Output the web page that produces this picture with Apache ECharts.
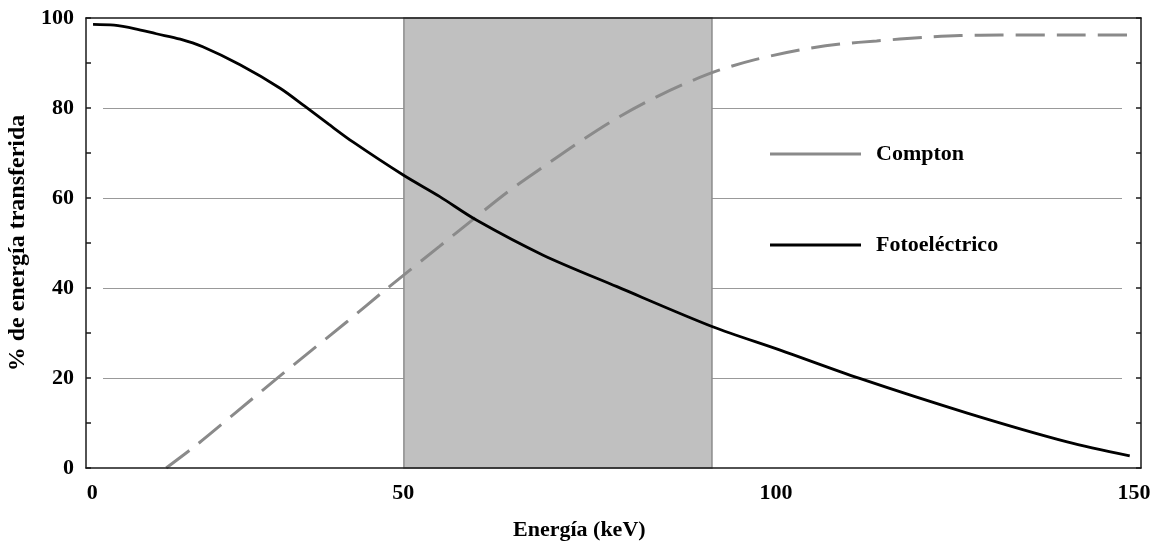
<!DOCTYPE html>
<html>
<head>
<meta charset="utf-8">
<script src="https://cdn.jsdelivr.net/npm/echarts@6/dist/echarts.min.js"></script>
<style>
  html, body { margin: 0; padding: 0; background: #fff; }
  #chart { width: 1157px; height: 542px; }
</style>
</head>
<body>
<div id="chart"></div>
<script>
// ---- data ----
const xTitle = 'Energía (keV)';
const yTitle = '% de energía transferida';
const xTickLabels = ['0', '50', '100', '150'];
const xTickValues = [0.9, 45.1, 98.1, 149];
const yTickValues = [0, 20, 40, 60, 80, 100];
const shadedBand = [45.2, 89.0];

const comptonName = 'Compton';
const comptonX = [11.4, 15.7, 21.2, 26.6, 31.8, 37.1, 42.8, 50.3, 55.0, 60.0, 65.0, 70.0, 75.0, 80.0, 85.0, 90.0, 95.0, 101.5, 107.2, 112.4, 119.0, 124.3, 130.0, 140.0, 148.4];
const comptonY = [0, 5.1, 12.2, 19.2, 25.8, 32.5, 39.9, 49.3, 55.2, 61.4, 66.9, 72.3, 77.3, 81.6, 85.3, 88.4, 90.7, 92.9, 94.2, 94.9, 95.7, 96.1, 96.2, 96.2, 96.2];

const photoName = 'Fotoeléctrico';
const photoX = [1.0, 4.0, 7.0, 10.0, 13.4, 16.6, 21.9, 27.6, 31.1, 34.5, 38.0, 45.1, 50.3, 55.5, 65.0, 75.5, 89.1, 98.7, 110.0, 125.3, 139.5, 148.4];
const photoY = [98.6, 98.4, 97.6, 96.5, 95.3, 93.6, 89.6, 84.4, 80.4, 76.4, 72.4, 65.1, 60.3, 55.1, 47.3, 40.3, 31.4, 26.2, 19.9, 12.2, 5.8, 2.7];

// ---- chart ----
const FONT = "'Liberation Serif', 'Times New Roman', 'DejaVu Serif', serif";
const pair = (xs, ys) => xs.map((x, i) => [x, ys[i]]);
const chart = echarts.init(document.getElementById('chart'), null, { renderer: 'canvas' });

chart.setOption({
  animation: false,
  backgroundColor: '#ffffff',
  textStyle: { fontFamily: FONT },
  grid: [
    { left: 86, right: 16, top: 18, bottom: 74, show: false, containLabel: false, outerBoundsMode: 'none' },
    { left: 103, right: 35, top: 18, bottom: 74, show: false, containLabel: false, outerBoundsMode: 'none' }
  ],
  xAxis: [
    {
      gridIndex: 0, type: 'value', min: 0, max: 150, z: 5,
      axisLine: { show: true, onZero: false, lineStyle: { color: '#1a1a1a', width: 1.5 } },
      axisTick: { show: false },
      splitLine: { show: false },
      axisLabel: {
        customValues: xTickValues,
        margin: 14,
        fontFamily: FONT, fontWeight: 'bold', fontSize: 22, color: '#000',
        formatter: function (v) {
          let best = 0;
          for (let i = 1; i < xTickValues.length; i++) {
            if (Math.abs(xTickValues[i] - v) < Math.abs(xTickValues[best] - v)) best = i;
          }
          return xTickLabels[best];
        }
      }
    },
    {
      gridIndex: 0, type: 'value', min: 0, max: 150, position: 'top', z: 5,
      axisLine: { show: true, onZero: false, lineStyle: { color: '#1a1a1a', width: 1.5 } },
      axisTick: { show: false }, axisLabel: { show: false }, splitLine: { show: false }
    },
    {
      gridIndex: 1, type: 'value', min: 0, max: 150, show: false
    }
  ],
  yAxis: [
    {
      gridIndex: 0, type: 'value', min: 0, max: 100, interval: 10, z: 5,
      axisLine: { show: true, onZero: false, lineStyle: { color: '#1a1a1a', width: 1.5 } },
      axisTick: { show: true, inside: true, length: 5, lineStyle: { color: '#1a1a1a', width: 1.5 } },
      splitLine: { show: false },
      axisLabel: {
        margin: 12,
        fontFamily: FONT, fontWeight: 'bold', fontSize: 22, color: '#000',
        formatter: function (v) { return yTickValues.indexOf(v) >= 0 ? String(v) : ''; }
      },
      name: yTitle,
      nameLocation: 'middle',
      nameGap: 56,
      nameRotate: 90,
      nameTextStyle: { fontFamily: FONT, fontWeight: 'bold', fontSize: 24, color: '#000' }
    },
    {
      gridIndex: 0, type: 'value', min: 0, max: 100, interval: 10, position: 'right', z: 5,
      axisLine: { show: true, onZero: false, lineStyle: { color: '#1a1a1a', width: 1.5 } },
      axisTick: { show: true, inside: true, length: 5, lineStyle: { color: '#1a1a1a', width: 1.5 } },
      axisLabel: { show: false }, splitLine: { show: false }
    },
    {
      gridIndex: 1, type: 'value', min: 0, max: 100, interval: 20, z: 1,
      axisLine: { show: false }, axisTick: { show: false }, axisLabel: { show: false },
      splitLine: { show: true, showMinLine: false, showMaxLine: false, lineStyle: { color: '#999999', width: 1.2 } }
    }
  ],
  legend: {
    orient: 'vertical',
    left: 770, top: 143,
    padding: 0,
    icon: 'rect',
    itemWidth: 91, itemHeight: 3, itemGap: 69,
    selectedMode: false,
    textStyle: { fontFamily: FONT, fontWeight: 'bold', fontSize: 22, color: '#000', padding: [0, 0, 0, 10] },
    data: [comptonName, photoName]
  },
  graphic: [
    {
      type: 'text', left: 513, top: 519,
      style: { text: xTitle, fontFamily: FONT, fontWeight: 'bold', fontSize: 22, fill: '#000' }
    }
  ],
  series: [
    {
      name: 'band', type: 'line', xAxisIndex: 0, yAxisIndex: 0, z: 0, data: [],
      silent: true,
      markArea: {
        silent: true,
        itemStyle: { color: '#c0c0c0', borderColor: '#8c8c8c', borderWidth: 1.5 },
        data: [[{ xAxis: shadedBand[0], yAxis: 0 }, { xAxis: shadedBand[1], yAxis: 100 }]]
      }
    },
    {
      name: comptonName, type: 'line', xAxisIndex: 0, yAxisIndex: 0, z: 3,
      data: pair(comptonX, comptonY),
      smooth: 0.3, showSymbol: false, symbol: 'none',
      lineStyle: { color: '#8a8a8a', width: 3, type: [29, 12], cap: 'butt' },
      itemStyle: { color: '#8a8a8a' }
    },
    {
      name: photoName, type: 'line', xAxisIndex: 0, yAxisIndex: 0, z: 3,
      data: pair(photoX, photoY),
      smooth: 0.3, showSymbol: false, symbol: 'none',
      lineStyle: { color: '#000', width: 2.8 },
      itemStyle: { color: '#000' }
    }
  ]
});
</script>
</body>
</html>
